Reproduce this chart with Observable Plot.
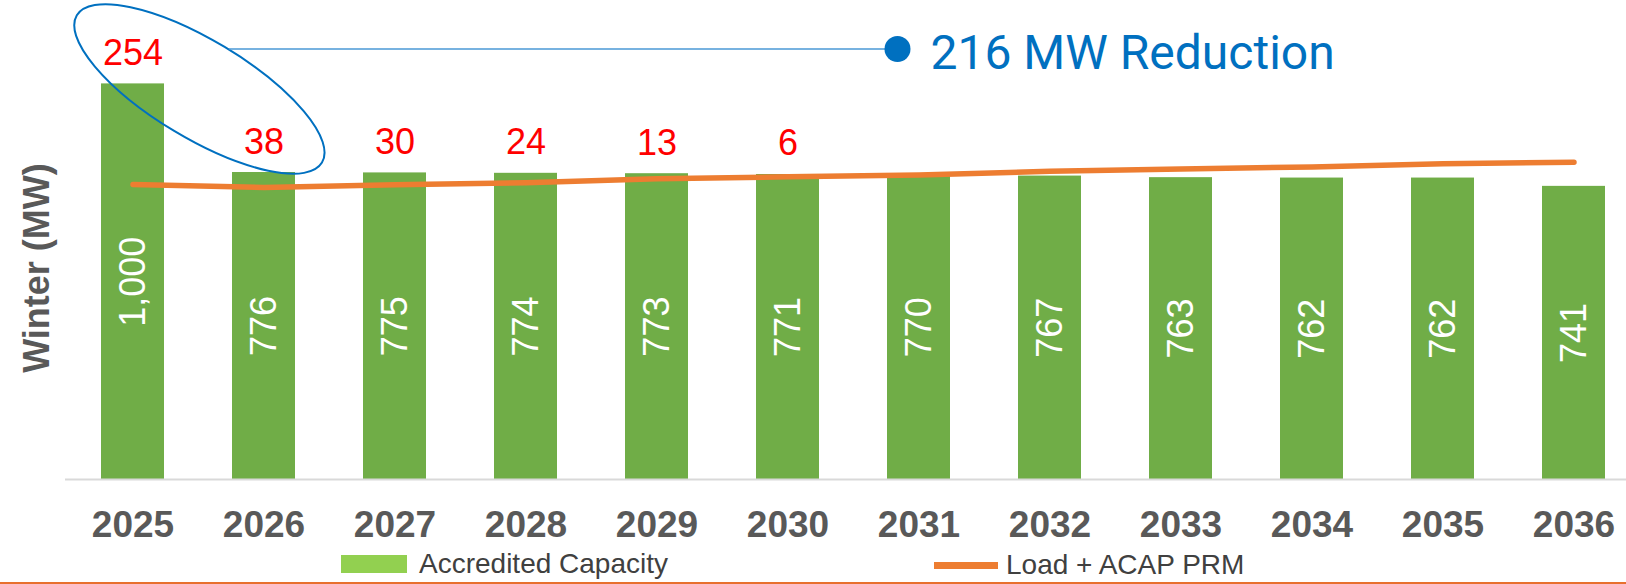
<!DOCTYPE html>
<html>
<head>
<meta charset="utf-8">
<script src="https://cdn.jsdelivr.net/npm/d3@7"></script>
<script src="https://cdn.jsdelivr.net/npm/@observablehq/plot@0.6"></script>
<style>
  body { margin: 0; background: #fff; font-family: "Liberation Sans", Arial, sans-serif; }
  #wrap { position: relative; width: 1626px; height: 584px; overflow: hidden; background: #fff; }
  #legend { position: absolute; left: 0; top: 545px; width: 1626px; height: 39px; }
  .sw { position: absolute; }
  .lt { position: absolute; font-size: 28px; line-height: 28px; color: #404040; white-space: nowrap; }
  #bottomline { position: absolute; left: 0; top: 582px; width: 1626px; height: 2px; background: #e8702e; }
</style>
</head>
<body>
<div id="wrap">
  <div id="chart"></div>
  <div id="legend"></div>
  <div id="bottomline"></div>
</div>
<script>
// ---- data ----
const years = ["2025","2026","2027","2028","2029","2030","2031","2032","2033","2034","2035","2036"];
const capacity = [1000, 776, 775, 774, 773, 771, 770, 767, 763, 762, 762, 741];
const loadPRM = [746, 738, 745, 750, 760, 765, 770, 779, 785, 790, 798, 802];
const surplusYears = ["2025","2026","2027","2028","2029","2030"];
const surplus = [254, 38, 30, 24, 13, 6];
const seriesNames = ["Accredited Capacity", "Load + ACAP PRM"];
const yTitle = "Winter (MW)";
const reductionLabel = "216 MW Reduction";

// ---- tables built from the arrays ----
const bars = years.map((year, i) => ({year, value: capacity[i]}));
const load = years.map((year, i) => ({year, value: loadPRM[i]}));
const surplusData = surplusYears.map((year, i) => ({year, value: surplus[i], top: capacity[years.indexOf(year)]}));

const green = "#70ad47", orange = "#ed7d31", blue = "#0070c0";
const fmt = d3.format(",");

const chart = Plot.plot({
  width: 1626,
  height: 545,
  marginLeft: 65,
  marginRight: 0,
  marginTop: 56,
  marginBottom: 66,
  style: {fontFamily: '"Liberation Sans", Arial, sans-serif', background: "transparent", overflow: "visible"},
  x: {domain: years, range: [65.05, 1640.7], paddingInner: 0.52, paddingOuter: 0.26, align: 0.5, label: null},
  y: {domain: [0, 1000], range: [479, 83.4], axis: null},
  marks: [
    Plot.barY(bars, {x: "year", y: "value", fill: green}),
    Plot.ruleY([0], {stroke: "#d9d9d9", strokeWidth: 2}),
    Plot.text(bars, {x: "year", y: d => d.value / 2, text: d => fmt(d.value), rotate: -90, fill: "white", fontSize: 36}),
    Plot.line(load, {x: "year", y: "value", stroke: orange, strokeWidth: 5.5, strokeLinecap: "round", strokeLinejoin: "round"}),
    Plot.text(surplusData, {x: "year", y: "top", text: d => String(d.value), dy: -19, lineAnchor: "bottom", fill: "#ff0000", fontSize: 36}),
    Plot.axisX({tickSize: 0, tickPadding: 31, fontSize: 37, fontWeight: "bold", fill: "#595959", label: null}),
    Plot.text([yTitle], {frameAnchor: "left", textAnchor: "middle", lineAnchor: "middle", dx: -28, rotate: -90, fontSize: 36, fontWeight: "bold", fill: "#595959"})
  ]
});
document.getElementById("chart").appendChild(chart);

// ---- annotation (ellipse + leader + label) positioned through the plot's scales ----
const xs = chart.scale("x"), ys = chart.scale("y");
const bw = xs.bandwidth || 0;
const cxOf = yr => xs.apply(yr) + bw / 2;
const svg = d3.select(chart);
const g = svg.append("g").attr("class", "annotation");

const ecx = (cxOf("2025") + cxOf("2026")) / 2 + 1.4;
const ecy = ys.apply(986);
const rx = 143, ry = 49, ang = 31;
g.append("ellipse")
  .attr("cx", ecx).attr("cy", ecy).attr("rx", rx).attr("ry", ry)
  .attr("transform", `rotate(${ang} ${ecx} ${ecy})`)
  .attr("fill", "none").attr("stroke", blue).attr("stroke-width", 2);

const lineY = ys.apply(1087);
// right-most point of the ellipse outline at the leader's height
const th = ang * Math.PI / 180;
let best = null;
for (let t = 0; t < Math.PI * 2; t += 0.0005) {
  const px = ecx + rx * Math.cos(th) * Math.cos(t) - ry * Math.sin(th) * Math.sin(t);
  const py = ecy + rx * Math.sin(th) * Math.cos(t) + ry * Math.cos(th) * Math.sin(t);
  if (Math.abs(py - lineY) < 0.6 && (best === null || px > best)) best = px;
}
const dotX = cxOf("2031") - 21;
g.append("line")
  .attr("x1", best ?? ecx).attr("x2", dotX).attr("y1", lineY).attr("y2", lineY)
  .attr("stroke", "#4a98d6").attr("stroke-width", 1.6);
g.append("circle").attr("cx", dotX).attr("cy", lineY).attr("r", 13).attr("fill", blue);
g.append("text")
  .attr("x", dotX + 33).attr("y", lineY + 20)
  .attr("text-anchor", "start")
  .attr("fill", blue)
  .style("font-family", "Roboto, 'Liberation Sans', Arial, sans-serif")
  .style("font-size", "48px")
  .text(reductionLabel);

// ---- legend below the SVG ----
const legend = d3.select("#legend");
legend.append("div").attr("class", "sw")
  .style("left", "341px").style("top", "10px").style("width", "66px").style("height", "18px")
  .style("background", "#92d050");
legend.append("div").attr("class", "lt")
  .style("left", "419px").style("top", "5px").text(seriesNames[0]);
legend.append("div").attr("class", "sw")
  .style("left", "934px").style("top", "16.5px").style("width", "64px").style("height", "7px")
  .style("background", orange);
legend.append("div").attr("class", "lt")
  .style("left", "1006px").style("top", "6px").text(seriesNames[1]);
</script>
</body>
</html>
